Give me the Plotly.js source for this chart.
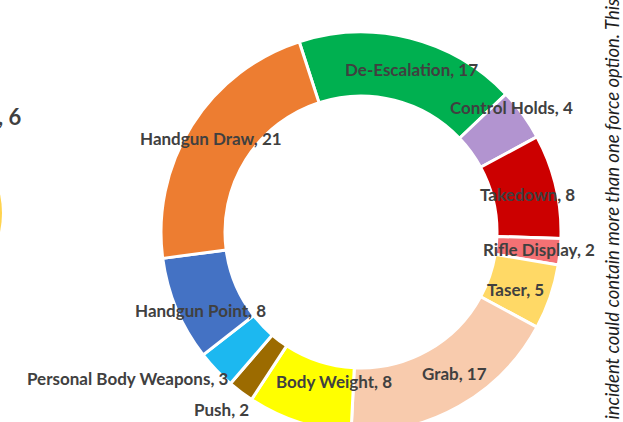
<!DOCTYPE html>
<html><head><meta charset="utf-8">
<script src="https://cdn.plot.ly/plotly-3.0.1.min.js"></script>
<style>html,body{margin:0;padding:0;overflow:hidden;background:#fff}#chart{width:623px;height:460px}</style>
</head><body><div id="chart"></div>
<script>
// ---- data ----
const categories = ['De-Escalation','Control Holds','Takedown','Rifle Display','Taser','Grab','Body Weight','Push','Personal Body Weapons','Handgun Point','Handgun Draw'];
const counts = [17,4,8,2,5,17,8,2,3,8,21];
const colors = ['#00B050','#B294D0','#CC0000','#F47174','#FFD966','#F8CBAD','#FFFF00','#9C6B00','#1CB8F0','#4472C4','#ED7D31'];
const sideNote = 'Each incident could contain more than one force option. This';
const cutLabel = ', 6';

// ---- layout constants ----
const W = 623, H = 460;
const cx = 361, cy = 232, R = 200, HOLE = 0.68, ROT = -18;
// label nudges (angle offset in degrees, distance from centre in px)
const labelDAngle = [2.9,-3.6,0.7,-0.2,1.6,-4.1,-7.8,1.1,11.4,-3.3,-0.2];
const labelDist   = [170,195,171,179,165,170,152,226,275,179,177];

const total = counts.reduce((a,b)=>a+b,0);
let cum = 0;
const annotations = [];
counts.forEach((v,i)=>{
  const mid = ROT + (cum + v/2)/total*360;
  cum += v;
  const a = (mid + labelDAngle[i]) * Math.PI/180;
  const px = cx + labelDist[i]*Math.sin(a);
  const py = cy - labelDist[i]*Math.cos(a);
  annotations.push({
    text: categories[i] + ', ' + v,
    x: px/W, y: 1 - py/H, xref:'paper', yref:'paper',
    xanchor:'center', yanchor:'middle', showarrow:false,
    font:{family:'Lato, "Open Sans", sans-serif', size:17, color:'#404040', weight:'bold'}
  });
});
annotations.push({
  text: cutLabel, x: 23/W, y: 1 - 116/H, xref:'paper', yref:'paper',
  xanchor:'right', yanchor:'middle', showarrow:false,
  font:{family:'Lato, "Open Sans", sans-serif', size:22, color:'#404040', weight:'bold'}
});
annotations.push({
  text: '<i>' + sideNote + '</i>', textangle:-90,
  x: 612/W, y: 1 + 3/H, xref:'paper', yref:'paper',
  xanchor:'center', yanchor:'top', showarrow:false,
  font:{family:'Lato, "Open Sans", sans-serif', size:18.5, color:'#1e1e1e'}
});

const trace = {
  type:'pie', labels:categories, values:counts, sort:false,
  direction:'clockwise', rotation:ROT, hole:HOLE,
  marker:{colors:colors, line:{color:'#ffffff', width:3}},
  textinfo:'none', hoverinfo:'label+value', showlegend:false,
  domain:{x:[(cx-R)/W,(cx+R)/W], y:[1-(cy+R)/H, 1-(cy-R)/H]}
};

const layout = {
  width:W, height:H, margin:{l:0,r:0,t:0,b:0},
  paper_bgcolor:'#ffffff', plot_bgcolor:'#ffffff',
  showlegend:false, annotations:annotations,
  shapes:[{type:'circle', xref:'paper', yref:'paper',
    x0:-174/W, x1:2/W, y0:1-301/H, y1:1-125/H,
    fillcolor:'#FFD34E', line:{width:0}}]
};
Plotly.newPlot('chart',[trace],layout,{displayModeBar:false,staticPlot:true});
</script></body></html>
